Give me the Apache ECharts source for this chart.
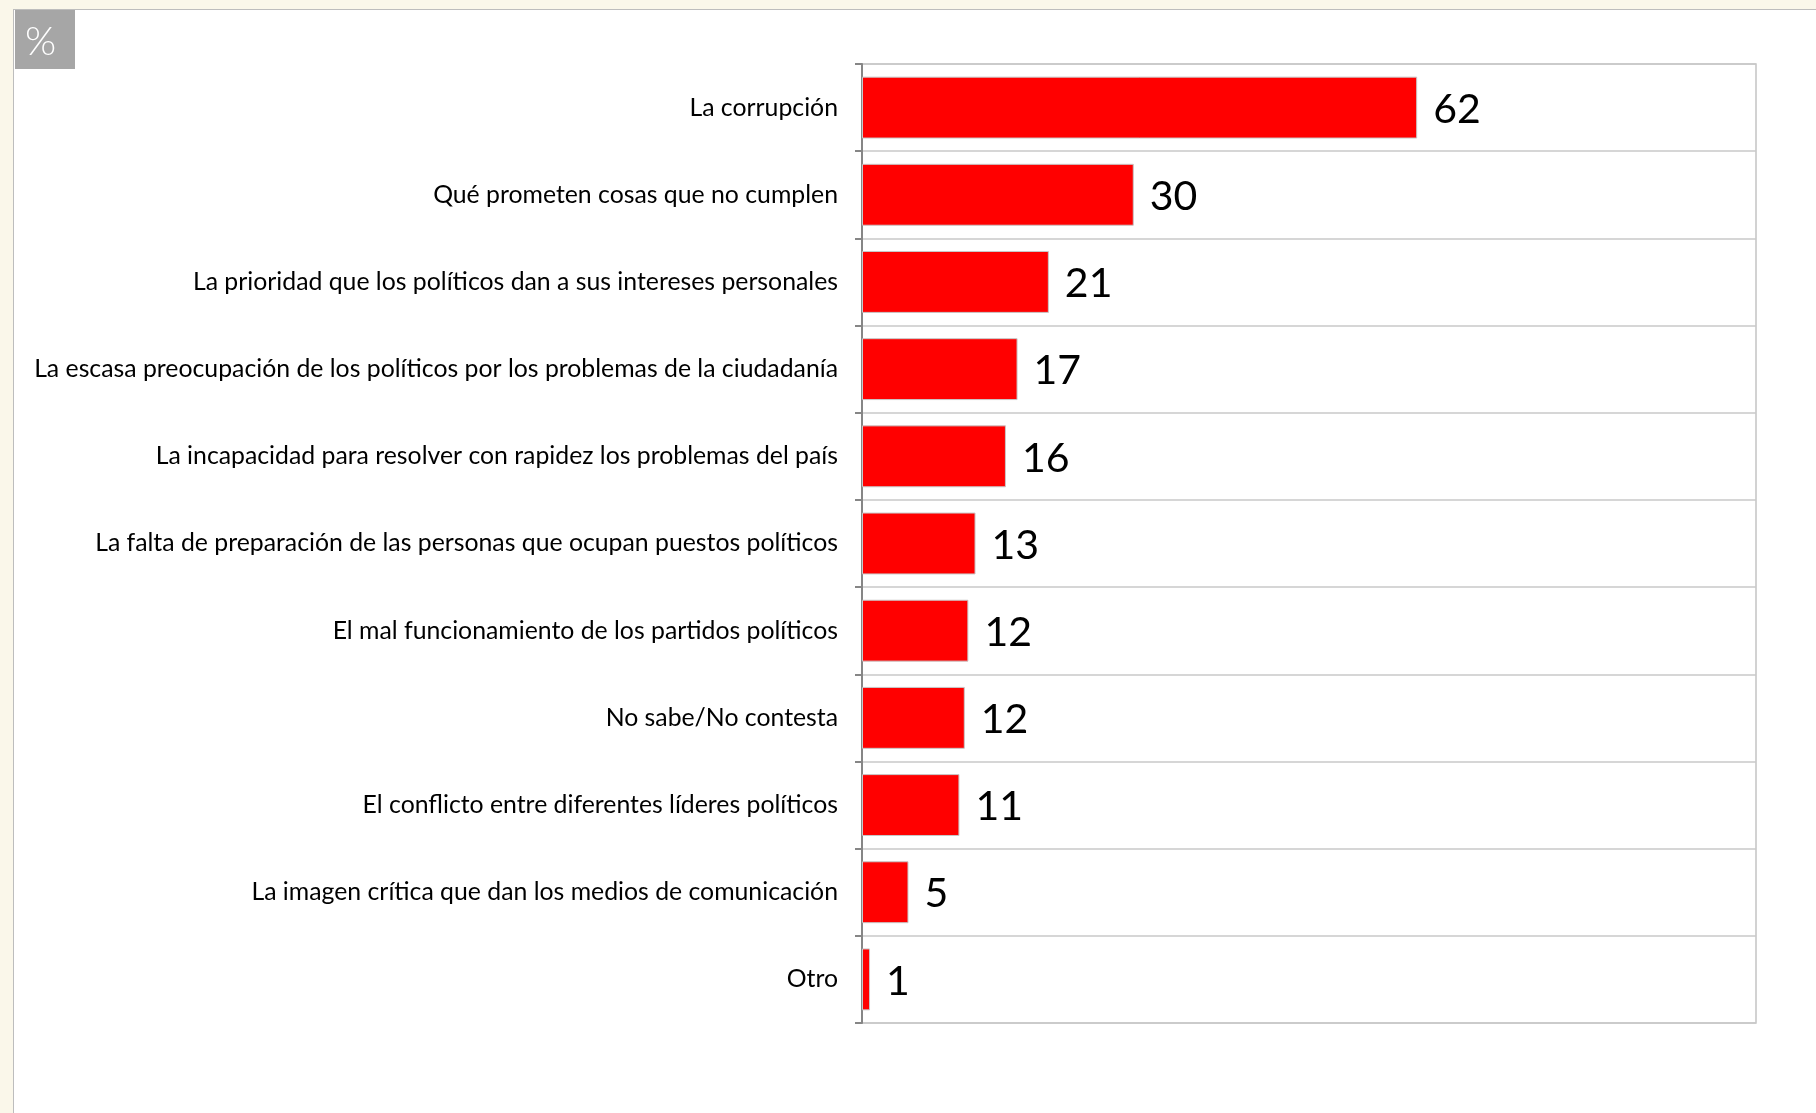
<!DOCTYPE html>
<html>
<head>
<meta charset="utf-8">
<script src="https://cdn.jsdelivr.net/npm/echarts@6/dist/echarts.min.js"></script>
<style>
  html, body { margin: 0; padding: 0; background: #FAF7EA; }
  #panel { position: absolute; left: 13px; top: 9px; width: 1840px; height: 1200px; background: #fff; border-left: 1.5px solid #BDBDBD; border-top: 1.5px solid #BDBDBD; }
  #chart { position: absolute; left: 0; top: 0; width: 1816px; height: 1113px; }
</style>
</head>
<body>
<div id="panel"></div>
<div id="chart"></div>
<script>
const categories = [
  'La corrupción',
  'Qué prometen cosas que no cumplen',
  'La prioridad que los políticos dan a sus intereses personales',
  'La escasa preocupación de los políticos por los problemas de la ciudadanía',
  'La incapacidad para resolver con rapidez los problemas del país',
  'La falta de preparación de las personas que ocupan puestos políticos',
  'El mal funcionamiento de los partidos políticos',
  'No sabe/No contesta',
  'El conflicto entre diferentes líderes políticos',
  'La imagen crítica que dan los medios de comunicación',
  'Otro'
];
// bar lengths (labels show the rounded figure)
const values = [62.1, 30.4, 20.9, 17.4, 16.1, 12.7, 11.9, 11.5, 10.9, 5.2, 0.9];
const unitLabel = '%';

const chart = echarts.init(document.getElementById('chart'), null, { renderer: 'canvas' });
chart.setOption({
  backgroundColor: 'transparent',
  animation: false,
  graphic: [
    { type: 'rect', left: 15, top: 10, shape: { width: 60, height: 59 }, style: { fill: '#A6A6A6' } },
    { type: 'text', left: 25, top: 22, style: { text: unitLabel, fill: '#fff', font: '300 40px Lato' } }
  ],
  grid: {
    left: 862, top: 64, width: 894, height: 959,
    show: true, borderColor: '#C4C4C4', borderWidth: 1.5, backgroundColor: '#fff'
  },
  xAxis: {
    type: 'value', min: 0, max: 100, interval: 100,
    show: false,
    splitLine: { show: false }
  },
  yAxis: {
    type: 'category',
    data: categories,
    inverse: true,
    axisLine: { show: true, lineStyle: { color: '#868686', width: 2 } },
    axisTick: { show: true, length: 7, lineStyle: { color: '#868686', width: 2 } },
    splitLine: { show: true, lineStyle: { color: '#C8C8C8', width: 1.5 } },
    axisLabel: { margin: 24, color: '#000', fontSize: 24.8, fontFamily: 'Lato' }
  },
  series: [{
    type: 'bar',
    data: values,
    barCategoryGap: '29%',
    itemStyle: { color: '#FF0000', borderColor: '#C8C8C8', borderWidth: 1 },
    label: {
      show: true, position: 'right', distance: 16, offset: [0, 2],
      color: '#000', fontSize: 41, fontFamily: 'Lato',
      formatter: p => String(Math.round(p.value))
    }
  }]
});
</script>
</body>
</html>
